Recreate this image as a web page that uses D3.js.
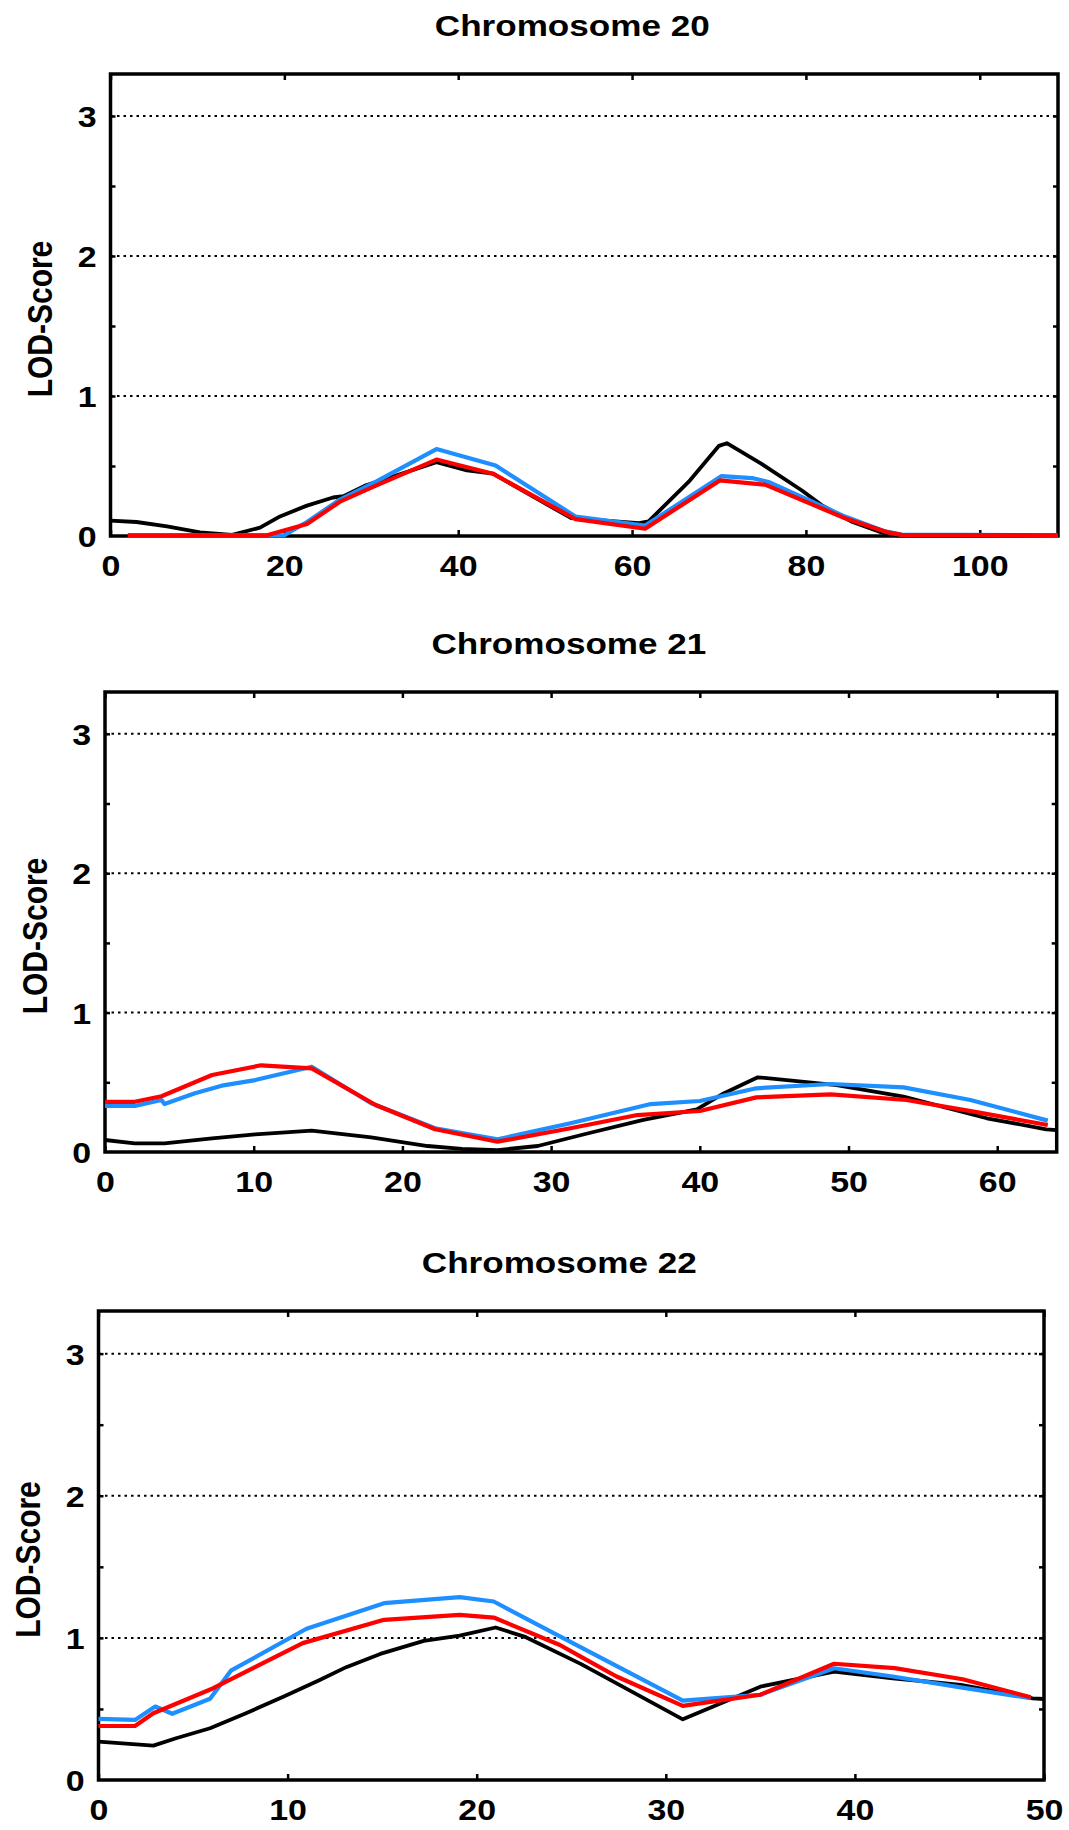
<!DOCTYPE html>
<html>
<head>
<meta charset="utf-8">
<script src="https://cdn.jsdelivr.net/npm/d3@7"></script>
<style>
  body { margin: 0; background: #fff; }
  svg { display: block; }
  text { font-family: "Liberation Sans", Arial, Helvetica, sans-serif; font-weight: bold; fill: #000; }
</style>
</head>
<body>
<svg id="chart" width="1069" height="1830"></svg>
<script>
// LOD score profiles: [position (cM), LOD]
const chr20Black = [[0,0.11],[3,0.10],[6.5,0.068],[10.3,0.026],[14,0.008],[17.2,0.06],[19.5,0.14],[22.6,0.217],[25.6,0.275],[26.8,0.285],[29.4,0.362],[37.5,0.527],[41,0.468],[44,0.445],[53,0.127],[60.8,0.092],[61.9,0.105],[66.5,0.386],[70,0.644],[70.9,0.663],[74.9,0.515],[79.5,0.327],[81.8,0.221],[85.2,0.104],[88.7,0.026],[90.5,0.005],[109,0.005]];
const chr20Blue  = [[2,0.005],[20,0.005],[22.6,0.1],[26.4,0.26],[30.6,0.39],[37.5,0.621],[44.3,0.503],[53.5,0.139],[61.5,0.075],[70.3,0.428],[73.8,0.414],[75.7,0.386],[84.5,0.139],[89.1,0.033],[91,0.01],[109,0.005]];
const chr20Red   = [[2,0.005],[18,0.005],[22.6,0.085],[26.4,0.245],[30.6,0.362],[37.5,0.546],[44,0.445],[53.5,0.12],[61.5,0.052],[70.1,0.397],[75.3,0.367],[84.5,0.127],[89.3,0.028],[91,0.008],[109,0.005]];

const chr21Black = [[0,0.086],[2,0.062],[4,0.062],[7.2,0.098],[10.1,0.127],[13.9,0.153],[17.9,0.105],[21.7,0.043],[24,0.022],[26.4,0.014],[29.1,0.043],[32.3,0.129],[36.2,0.23],[39.8,0.306],[41.6,0.42],[43.9,0.536],[49.2,0.48],[53.7,0.397],[59.3,0.242],[63.3,0.163],[64,0.157]];
const chr21Blue  = [[0,0.33],[2,0.33],[3.8,0.373],[4,0.344],[6.05,0.421],[7.85,0.476],[10.1,0.516],[13.9,0.612],[17.9,0.35],[22.2,0.17],[26.4,0.091],[31.3,0.206],[36.7,0.344],[40,0.366],[43.8,0.457],[48.8,0.488],[53.7,0.464],[58.2,0.373],[63.4,0.225]];
const chr21Red   = [[0,0.36],[2,0.36],[3.8,0.40],[7.2,0.552],[10.5,0.622],[13.9,0.60],[18.2,0.337],[22.2,0.163],[26.4,0.074],[31.3,0.17],[35.8,0.265],[40,0.294],[43.8,0.392],[48.8,0.414],[53.9,0.373],[58.8,0.282],[63.4,0.194]];

const chr22Black = [[0,0.27],[2.9,0.242],[4.1,0.294],[5.9,0.364],[7.8,0.47],[9.8,0.587],[11.7,0.704],[13.1,0.794],[14.9,0.887],[17.2,0.979],[19.1,1.016],[21,1.073],[22.6,1.005],[25.5,0.817],[27.4,0.68],[30.9,0.427],[35,0.657],[38.9,0.763],[42,0.716],[45.6,0.669],[49.4,0.575],[50,0.57]];
const chr22Blue  = [[0,0.43],[1.93,0.423],[3,0.517],[3.9,0.466],[5.9,0.572],[7,0.769],[11,1.064],[15.1,1.244],[19.1,1.287],[20.9,1.256],[24.4,1.01],[30.9,0.558],[35,0.60],[38.9,0.786],[42,0.728],[45.6,0.652],[49.3,0.575]];
const chr22Red   = [[0,0.38],[1.93,0.38],[2.9,0.47],[6.07,0.646],[10.8,0.963],[15.1,1.127],[19.1,1.162],[20.9,1.143],[24.4,0.95],[25.5,0.868],[27.4,0.728],[30.9,0.522],[35,0.6],[38.9,0.818],[42.1,0.787],[45.7,0.709],[49.3,0.582]];

// Axis ticks
const chr20Ticks = [0, 20, 40, 60, 80, 100];
const chr21Ticks = [0, 10, 20, 30, 40, 50, 60];
const chr22Ticks = [0, 10, 20, 30, 40, 50];
const lodTicks = [0, 1, 2, 3];
const lodGrid = [1, 2, 3];
const lodMinor = [0.5, 1.5, 2.5];
const lodMax = 3.3;

// Panel layout
const panels = [
  { title: "Chromosome 20", xMax: 109, ticks: chr20Ticks, series: [chr20Black, chr20Blue, chr20Red],
    l: 110.5, r: 1058, t: 74, b: 536 },
  { title: "Chromosome 21", xMax: 64, ticks: chr21Ticks, series: [chr21Black, chr21Blue, chr21Red],
    l: 105, r: 1056.7, t: 692, b: 1152 },
  { title: "Chromosome 22", xMax: 50, ticks: chr22Ticks, series: [chr22Black, chr22Blue, chr22Red],
    l: 98.5, r: 1044, t: 1311, b: 1780 }
];
const lineStyles = [
  { color: "#000000", width: 3.8 },
  { color: "#1e8fff", width: 4.2 },
  { color: "#ff0000", width: 4.2 }
];
const SX = 1.17;   // horizontal widening of the lettering
const tickFont = 29;

const svg = d3.select("#chart");

panels.forEach(p => {
  const x = d3.scaleLinear().domain([0, p.xMax]).range([p.l, p.r]);
  const y = d3.scaleLinear().domain([0, lodMax]).range([p.b, p.t]);
  const g = svg.append("g");

  // dotted horizontal grid
  g.append("g").selectAll("line").data(lodGrid).join("line")
    .attr("x1", p.l).attr("x2", p.r)
    .attr("y1", d => y(d)).attr("y2", d => y(d))
    .attr("stroke", "#000").attr("stroke-width", 2)
    .attr("stroke-dasharray", "2.5,4");

  // bottom axis with labels, ticks pointing inward
  const xb = g.append("g").attr("transform", `translate(0,${p.b})`)
    .call(d3.axisBottom(x).tickValues(p.ticks).tickSize(-6).tickPadding(19.5).tickFormat(d3.format("d")));
  // top axis ticks
  const xt = g.append("g").attr("transform", `translate(0,${p.t})`)
    .call(d3.axisTop(x).tickValues(p.ticks).tickSize(-6).tickFormat(""));
  // left axis with labels
  const yl = g.append("g").attr("transform", `translate(${p.l},0)`)
    .call(d3.axisLeft(y).tickValues(lodTicks).tickSize(0).tickPadding(0).tickFormat(d3.format("d")));
  // minor ticks left / right
  const ym = g.append("g").attr("transform", `translate(${p.l},0)`)
    .call(d3.axisLeft(y).tickValues(lodMinor.concat(lodGrid)).tickSize(-5).tickFormat(""));
  const yr = g.append("g").attr("transform", `translate(${p.r},0)`)
    .call(d3.axisRight(y).tickValues(lodMinor.concat(lodGrid)).tickSize(-5).tickFormat(""));

  [xb, xt, yl, ym, yr].forEach(a => {
    a.select(".domain").remove();
    a.selectAll(".tick line").attr("stroke", "#000").attr("stroke-width", 2.5);
    a.attr("font-family", null).attr("font-size", null);
  });

  xb.selectAll(".tick text")
    .style("font-size", tickFont + "px")
    .attr("transform", `scale(${SX},1)`);
  yl.selectAll(".tick text")
    .style("font-size", tickFont + "px")
    .attr("x", -14 / SX)
    .attr("dy", "0.36em")
    .attr("transform", `scale(${SX},1)`);

  // plot frame
  g.append("rect")
    .attr("x", p.l).attr("y", p.t)
    .attr("width", p.r - p.l).attr("height", p.b - p.t)
    .attr("fill", "none").attr("stroke", "#000").attr("stroke-width", 3.5);

  // LOD curves
  const line = d3.line().x(d => x(d[0])).y(d => y(d[1]));
  p.series.forEach((s, i) => {
    g.append("path").datum(s)
      .attr("d", line)
      .attr("fill", "none")
      .attr("stroke", lineStyles[i].color)
      .attr("stroke-width", lineStyles[i].width)
      .attr("stroke-linejoin", "round")
      .attr("stroke-linecap", "butt");
  });

  // panel title
  g.append("text")
    .attr("transform", `translate(${(p.l + p.r) / 2 - 12},${p.t - 38}) scale(${SX},1)`)
    .attr("text-anchor", "middle")
    .style("font-size", "30px")
    .text(p.title);

  // y-axis title
  g.append("text")
    .attr("transform", `translate(${p.l - 71},${(p.t + p.b) / 2 + 14}) scale(${SX},1) rotate(-90)`)
    .attr("text-anchor", "middle")
    .attr("dy", "0.36em")
    .style("font-size", "30px")
    .text("LOD-Score");
});
</script>
</body>
</html>
